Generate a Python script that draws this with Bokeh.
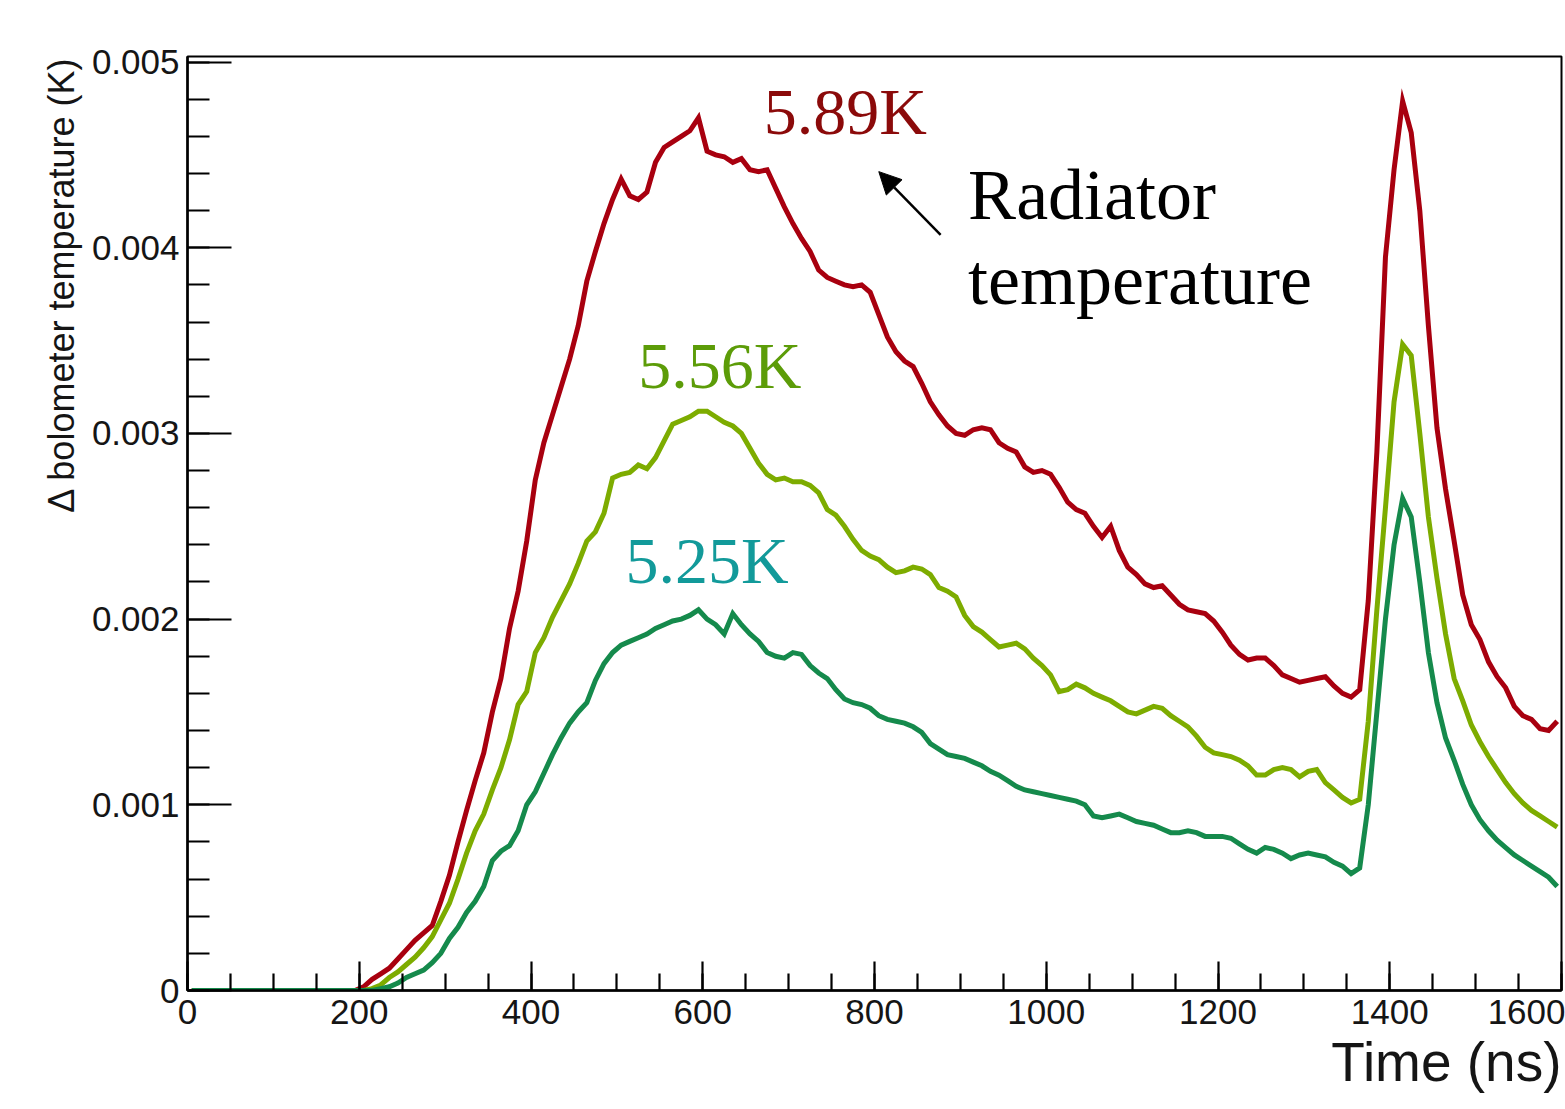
import numpy as np
from bokeh.plotting import figure
from bokeh.models import (FixedTicker, CustomJSTickFormatter, Label, Arrow,
                          NormalHead, Range1d, Title)
from bokeh.embed import file_html
from bokeh.resources import INLINE

# histogram bin centres (10 ns bins)
time_ns = list(range(5, 1600, 10))

# bolometer temperature rise, in mK, for three radiator temperatures
before_onset = [0.0] * 20  # 0-200 ns: no signal yet
rise_589K_mK = before_onset + [
    0.02, 0.06, 0.09, 0.12, 0.17, 0.22, 0.27, 0.31, 0.35, 0.48,
    0.62, 0.80, 0.97, 1.13, 1.28, 1.50, 1.68, 1.95, 2.15, 2.42,
    2.75, 2.95, 3.10, 3.25, 3.40, 3.58, 3.82, 3.98, 4.13, 4.26,
    4.37, 4.28, 4.26, 4.30, 4.46, 4.54, 4.57, 4.60, 4.63, 4.70,
    4.52, 4.50, 4.49, 4.46, 4.48, 4.42, 4.41, 4.42, 4.32, 4.22,
    4.13, 4.05, 3.98, 3.88, 3.84, 3.82, 3.80, 3.79, 3.80, 3.76,
    3.64, 3.52, 3.44, 3.39, 3.36, 3.27, 3.17, 3.10, 3.04, 3.00,
    2.99, 3.02, 3.03, 3.02, 2.95, 2.92, 2.90, 2.82, 2.79, 2.80,
    2.78, 2.71, 2.63, 2.59, 2.57, 2.50, 2.44, 2.50, 2.37, 2.28,
    2.24, 2.19, 2.17, 2.18, 2.13, 2.08, 2.05, 2.04, 2.03, 1.99,
    1.93, 1.86, 1.81, 1.78, 1.79, 1.79, 1.75, 1.70, 1.68, 1.66,
    1.67, 1.68, 1.69, 1.64, 1.60, 1.58, 1.62, 2.10, 2.90, 3.95,
    4.42, 4.79, 4.62, 4.20, 3.58, 3.03, 2.70, 2.42, 2.13, 1.97,
    1.89, 1.77, 1.69, 1.63, 1.53, 1.48, 1.46, 1.41, 1.40, 1.45,
]
rise_556K_mK = before_onset + [
    0.00, 0.01, 0.03, 0.07, 0.10, 0.14, 0.18, 0.23, 0.29, 0.38,
    0.47, 0.60, 0.74, 0.86, 0.95, 1.08, 1.20, 1.35, 1.54, 1.61,
    1.82, 1.90, 2.01, 2.10, 2.19, 2.30, 2.42, 2.47, 2.57, 2.76,
    2.78, 2.79, 2.83, 2.81, 2.87, 2.96, 3.05, 3.07, 3.09, 3.12,
    3.12, 3.09, 3.06, 3.04, 3.00, 2.92, 2.84, 2.78, 2.75, 2.76,
    2.74, 2.74, 2.72, 2.68, 2.59, 2.56, 2.50, 2.43, 2.37, 2.34,
    2.32, 2.28, 2.25, 2.26, 2.28, 2.27, 2.24, 2.17, 2.15, 2.12,
    2.02, 1.96, 1.93, 1.89, 1.85, 1.86, 1.87, 1.84, 1.79, 1.75,
    1.70, 1.61, 1.62, 1.65, 1.63, 1.60, 1.58, 1.56, 1.53, 1.50,
    1.49, 1.51, 1.53, 1.52, 1.48, 1.45, 1.42, 1.37, 1.31, 1.28,
    1.27, 1.26, 1.24, 1.21, 1.16, 1.16, 1.19, 1.20, 1.19, 1.15,
    1.18, 1.19, 1.12, 1.08, 1.04, 1.01, 1.03, 1.45, 2.05, 2.60,
    3.17, 3.48, 3.42, 3.00, 2.55, 2.22, 1.92, 1.68, 1.56, 1.43,
    1.34, 1.26, 1.19, 1.12, 1.06, 1.01, 0.97, 0.94, 0.91, 0.88,
]
rise_525K_mK = before_onset + [
    0.00, 0.00, 0.01, 0.02, 0.04, 0.07, 0.09, 0.11, 0.15, 0.20,
    0.28, 0.34, 0.42, 0.48, 0.56, 0.70, 0.75, 0.78, 0.86, 1.00,
    1.07, 1.17, 1.27, 1.36, 1.44, 1.50, 1.55, 1.67, 1.76, 1.82,
    1.86, 1.88, 1.90, 1.92, 1.95, 1.97, 1.99, 2.00, 2.02, 2.05,
    2.00, 1.97, 1.92, 2.03, 1.97, 1.92, 1.88, 1.82, 1.80, 1.79,
    1.82, 1.81, 1.75, 1.71, 1.68, 1.62, 1.57, 1.55, 1.54, 1.52,
    1.48, 1.46, 1.45, 1.44, 1.42, 1.39, 1.33, 1.30, 1.27, 1.26,
    1.25, 1.23, 1.21, 1.18, 1.16, 1.13, 1.10, 1.08, 1.07, 1.06,
    1.05, 1.04, 1.03, 1.02, 1.00, 0.94, 0.93, 0.94, 0.95, 0.93,
    0.91, 0.90, 0.89, 0.87, 0.85, 0.85, 0.86, 0.85, 0.83, 0.83,
    0.83, 0.82, 0.79, 0.76, 0.74, 0.77, 0.76, 0.74, 0.71, 0.73,
    0.74, 0.73, 0.72, 0.69, 0.67, 0.63, 0.66, 1.00, 1.50, 2.00,
    2.40, 2.65, 2.55, 2.20, 1.82, 1.55, 1.36, 1.24, 1.11, 1.00,
    0.92, 0.86, 0.81, 0.77, 0.73, 0.70, 0.67, 0.64, 0.61, 0.56,
]

series_names = ["5.89K", "5.56K", "5.25K"]
series_values = [rise_589K_mK, rise_556K_mK, rise_525K_mK]
line_colors = ["#a8000f", "#7dac00", "#158a4c"]
label_colors = ["#8b0a0a", "#5c9c08", "#129a9a"]

# axis ticks
x_major = [0, 200, 400, 600, 800, 1000, 1200, 1400, 1600]
x_minor = list(range(0, 1601, 50))
y_major = [0.0, 0.001, 0.002, 0.003, 0.004, 0.005]
y_minor = [0.0002 * i for i in range(26)]

p = figure(
    frame_width=1374, frame_height=934,
    min_border_left=187, min_border_right=4,
    min_border_top=56, min_border_bottom=119,
    x_range=Range1d(0, 1600), y_range=Range1d(0, 0.00503),
    output_backend="svg", toolbar_location=None,
    background_fill_color="white", border_fill_color="white",
)
p.grid.visible = False
p.outline_line_color = "black"
p.outline_line_width = 2

for vals, col in zip(series_values, line_colors):
    p.line(time_ns, np.array(vals) * 1e-3, line_color=col, line_width=5,
           line_join="miter")

# axes in the ROOT style: inward ticks, no outward part
for ax in (p.xaxis[0], p.yaxis[0]):
    ax.axis_line_color = "black"
    ax.axis_line_width = 2.5
    ax.major_tick_line_color = "black"
    ax.minor_tick_line_color = "black"
    ax.major_tick_line_width = 2.2
    ax.minor_tick_line_width = 2.2
    ax.major_tick_out = 0
    ax.minor_tick_out = 0
    ax.major_label_text_font = "Liberation Sans"
    ax.major_label_text_font_size = "35px"
    ax.major_label_text_color = "#151515"

p.xaxis.ticker = FixedTicker(ticks=x_major, minor_ticks=x_minor)
p.xaxis.major_tick_in = 29
p.xaxis.minor_tick_in = 17
p.xaxis.major_label_standoff = 9

p.yaxis.ticker = FixedTicker(ticks=y_major, minor_ticks=y_minor)
p.yaxis.major_tick_in = 44
p.yaxis.minor_tick_in = 22
p.yaxis.major_label_standoff = 8
p.yaxis.formatter = CustomJSTickFormatter(
    code="return tick === 0 ? '0' : tick.toFixed(3);")

# axis titles, placed at the far end of each axis
p.add_layout(Title(text="Time (ns)", align="right", text_font="Liberation Sans",
                   text_font_size="55px", text_font_style="normal",
                   text_color="#151515", standoff=5), "below")
p.add_layout(Title(text="\u0394 bolometer temperature (K)", align="right",
                   text_font="Liberation Sans", text_font_size="36px",
                   text_font_style="normal", text_color="#151515",
                   standoff=13), "left")

# curve labels
label_pos = [(671, 0.004733), (525, 0.003364), (510, 0.002318)]
for name, col, (lx, ly) in zip(series_names, label_colors, label_pos):
    p.add_layout(Label(x=lx, y=ly, text=name, text_font="Liberation Serif",
                       text_font_size="66px", text_color=col,
                       text_baseline="alphabetic"))

p.add_layout(Label(x=909, y=0.004285, text="Radiator",
                   text_font="Liberation Serif", text_font_size="72px",
                   text_color="black", text_baseline="alphabetic"))
p.add_layout(Label(x=909, y=0.003827, text="temperature",
                   text_font="Liberation Serif", text_font_size="72px",
                   text_color="black", text_baseline="alphabetic"))

p.add_layout(Arrow(end=NormalHead(size=22, fill_color="black",
                                  line_color="black"),
                   x_start=877, y_start=0.00407, x_end=805, y_end=0.00441,
                   line_color="black", line_width=2.5))

open("out.html", "w").write(file_html(p, INLINE))
